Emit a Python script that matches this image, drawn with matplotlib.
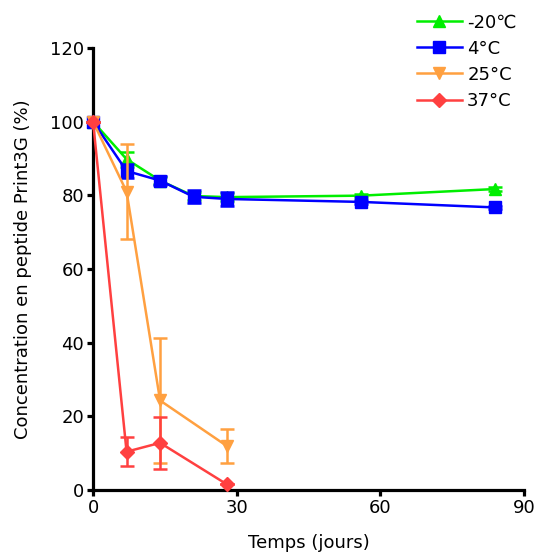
import matplotlib
matplotlib.use("Agg")
import matplotlib.pyplot as plt
import numpy as np

# temps (jours)
days_cold = [0, 7, 14, 21, 28, 56, 84]
days_warm = [0, 7, 14, 28]

# concentration (%)
conc_m20 = [100, 89.8, 84.0, 79.8, 79.5, 79.9, 81.7]
err_m20 = [0, 2.0, 1.0, 1.0, 1.0, 0.5, 0.5]
conc_4 = [100, 86.6, 84.0, 79.6, 79.0, 78.2, 76.7]
err_4 = [0, 2.0, 1.2, 1.8, 2.0, 0.5, 0.5]
conc_25 = [100, 81.0, 24.3, 11.9]
err_25 = [0, 13.0, 17.0, 4.6]
conc_37 = [100, 10.4, 12.8, 1.5]
err_37 = [0, 3.9, 7.0, 0]

labels = ["-20\u2103", "4\u00b0C", "25\u00b0C", "37\u00b0C"]
colors = ["#00ee00", "#0000ff", "#ffa040", "#ff4040"]

plt.rcParams['font.family'] = ['DejaVu Sans']

fig = plt.figure(figsize=(5.41, 5.54), dpi=100)
ax = fig.add_axes([0.172, 0.1155, 0.7966, 0.798])

series = [
    (days_cold, conc_4, err_4, "s", 1),
    (days_cold, conc_m20, err_m20, "^", 0),
    (days_warm, conc_25, err_25, "v", 2),
    (days_warm, conc_37, err_37, "D", 3),
]
handles = {}
for x, y, e, m, i in series:
    ms = 7 if m == "D" else 9
    h = ax.errorbar(x, y, yerr=e, color=colors[i], marker=m, markersize=ms,
                    lw=1.8, elinewidth=1.8, capsize=5, capthick=1.8,
                    clip_on=False, zorder=3 + i)
    for art in h.lines[1] + h.lines[2]:
        art.set_clip_on(False)
    h.lines[0].set_clip_on(False)
    handles[i] = h.lines[0]

ax.set_xlim(0, 90)
ax.set_ylim(0, 120)
ax.set_xticks([0, 30, 60, 90])
ax.set_yticks([0, 20, 40, 60, 80, 100, 120])
ax.spines['top'].set_visible(False)
ax.spines['right'].set_visible(False)
for s in ['left', 'bottom']:
    ax.spines[s].set_linewidth(2.3)
ax.tick_params(width=2.3, length=4.5, labelsize=13, pad=2)
ax.set_xlabel("Temps (jours)", fontsize=13, labelpad=12)
ax.set_ylabel("Concentration en peptide Print3G (%)", fontsize=13, labelpad=13)

leg = fig.legend([handles[i] for i in range(4)], labels, loc="upper left",
                 bbox_to_anchor=(0.74, 1.005), frameon=False, fontsize=13,
                 handlelength=2.5, handletextpad=0.3, labelspacing=0.45)

fig.savefig("out.png", dpi=100)
